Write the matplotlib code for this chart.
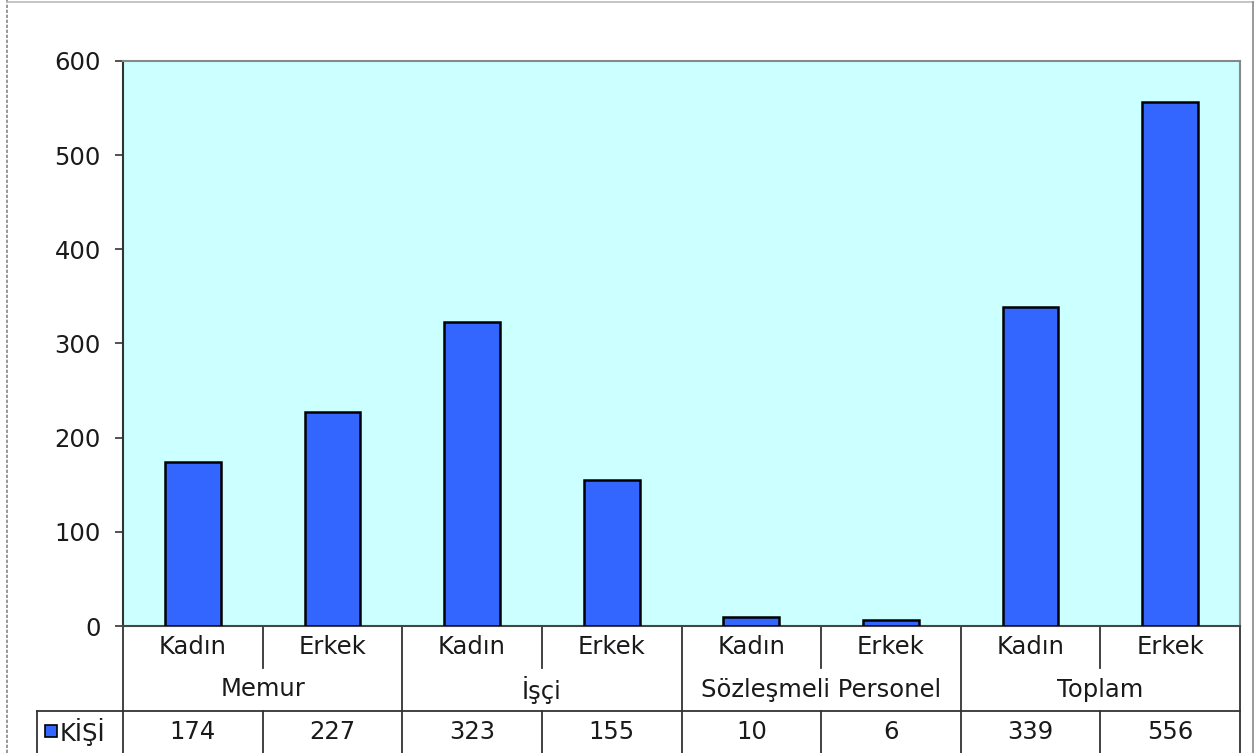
import matplotlib
matplotlib.use("Agg")
import matplotlib.pyplot as plt
from matplotlib.transforms import blended_transform_factory
from matplotlib.lines import Line2D
from matplotlib.patches import Rectangle

groups = ["Memur", "İşçi", "Sözleşmeli Personel", "Toplam"]
genders = ["Kadın", "Erkek"]
series_name = "KİŞİ"
values = [174, 227, 323, 155, 10, 6, 339, 556]
yticks = [0, 100, 200, 300, 400, 500, 600]

W, H = 1258, 753
plt.rcParams['font.family'] = ['DejaVu Sans']
FS = 17.5
TC = '#1a1a1a'
fig = plt.figure(figsize=(W / 100, H / 100), dpi=100)
fig.patch.set_facecolor('white')

L, R, T, B = 123, 1240, 61, 626
ax = fig.add_axes([L / W, 1 - B / H, (R - L) / W, (B - T) / H])
ax.set_facecolor('#CCFFFF')
n = len(values)
x = list(range(n))
ax.bar(x, values, width=0.4, color='#3366FF', edgecolor='black', linewidth=1.8, zorder=3)
ax.set_xlim(-0.5, n - 0.5)
ax.set_ylim(0, 600)
ax.set_yticks(yticks)
ax.set_yticklabels([str(v) for v in yticks], fontsize=FS, color=TC)
ax.tick_params(axis='y', direction='out', length=6, width=1.2, color='#333333', pad=10)
ax.set_xticks([])
for s in ['top', 'right']:
    ax.spines[s].set_color('#888888')
    ax.spines[s].set_linewidth(1.5)
ax.spines['left'].set_color('#333333')
ax.spines['left'].set_linewidth(1.5)
ax.spines['bottom'].set_color('#444444')
ax.spines['bottom'].set_linewidth(1.5)

# table below axes: x in data coords, y in figure pixels (from top)
def ypx(y):
    return 1 - y / H

tr = blended_transform_factory(ax.transData, fig.transFigure)
lc = '#333333'
lw = 1.3

def vline(xd, y0, y1):
    ax.add_line(Line2D([xd, xd], [ypx(y0), ypx(y1)], transform=tr, color=lc, lw=lw, clip_on=False))

def hline(x0, x1, y):
    ax.add_line(Line2D([x0, x1], [ypx(y), ypx(y)], transform=tr, color=lc, lw=lw, clip_on=False))

r1, r2, r3, r4 = 626, 668, 711, 753
vline(-0.5, r1, r4)
vline(n - 0.5, r1, r4)
for g in range(1, len(groups)):
    vline(g * 2 - 0.5, r1, r4)
for g in range(len(groups)):
    xd = g * 2 + 0.5
    vline(xd, r1, r2)
    vline(xd, r3, r4)
hline(-0.5, n - 0.5, r3)

for i in range(n):
    ax.text(i, ypx((r1 + r2) / 2), genders[i % 2], transform=tr, ha='center', va='center',
            fontsize=FS, color=TC)
    ax.text(i, ypx((r3 + r4) / 2), str(values[i]), transform=tr, ha='center', va='center',
            fontsize=FS, color=TC)
for g, name in enumerate(groups):
    ax.text(g * 2 + 0.5, ypx((r2 + r3) / 2), name, transform=tr, ha='center', va='center',
            fontsize=FS, color=TC)

# legend key cell on the left
fig.add_artist(Line2D([37 / W, L / W], [ypx(r3), ypx(r3)], color=lc, lw=lw))
fig.add_artist(Line2D([37 / W, 37 / W], [ypx(r3), ypx(r4)], color=lc, lw=lw))
fig.add_artist(Rectangle((45 / W, ypx(737)), 12 / W, 12 / H, facecolor='#3366FF',
                         edgecolor='black', lw=1.2))
fig.text(60 / W, ypx((r3 + r4) / 2), series_name, ha='left', va='center', fontsize=FS,
         color=TC)

# outer frame
fig.add_artist(Line2D([7 / W, 7 / W], [0, 1], color='#888888', lw=1.2, linestyle=(0, (2, 1))))
fig.add_artist(Line2D([7 / W, 1253 / W], [ypx(1.5), ypx(1.5)], color='#bbbbbb', lw=1.2))
fig.add_artist(Line2D([1253 / W, 1253 / W], [0, ypx(1.5)], color='#888888', lw=1.2))

fig.savefig('out.png', dpi=100)
